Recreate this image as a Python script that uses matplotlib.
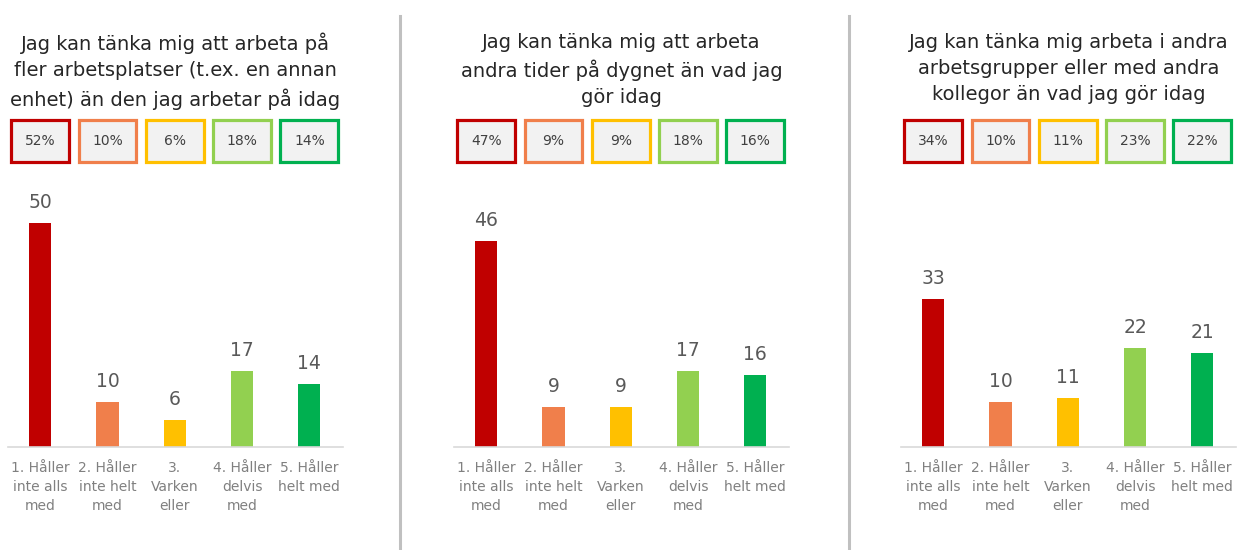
import matplotlib.pyplot as plt
from matplotlib.patches import Rectangle
from matplotlib.lines import Line2D
import matplotlib.transforms as mtransforms

# Data
categories = ['1. Håller\ninte alls\nmed', '2. Håller\ninte helt\nmed', '3.\nVarken\neller',
              '4. Håller\ndelvis\nmed', '5. Håller\nhelt med']
titles = ['Jag kan tänka mig att arbeta på\nfler arbetsplatser (t.ex. en annan\nenhet) än den jag arbetar på idag',
          'Jag kan tänka mig att arbeta\nandra tider på dygnet än vad jag\ngör idag',
          'Jag kan tänka mig arbeta i andra\narbetsgrupper eller med andra\nkollegor än vad jag gör idag']
counts_1 = [50, 10, 6, 17, 14]
counts_2 = [46, 9, 9, 17, 16]
counts_3 = [33, 10, 11, 22, 21]
pct_1 = [52, 10, 6, 18, 14]
pct_2 = [47, 9, 9, 18, 16]
pct_3 = [34, 10, 11, 23, 22]

colors = ['#C00000', '#F07F4B', '#FFC000', '#92D050', '#00B050']

W, H = 1239, 550
fig = plt.figure(figsize=(W / 100, H / 100), dpi=100)

panels = [(titles[0], counts_1, pct_1, 8),
          (titles[1], counts_2, pct_2, 454),
          (titles[2], counts_3, pct_3, 901)]

ax_w = 335
ax_bottom = 447
ax_top = 170
for title, counts, pcts, left in panels:
    ax = fig.add_axes([left / W, (H - ax_bottom) / H, ax_w / W, (ax_bottom - ax_top) / H])
    x = range(len(categories))
    bars = ax.bar(x, counts, width=0.33, color=colors)
    ax.set_xlim(-0.48, 4.5)
    ax.set_ylim(0, (ax_bottom - ax_top) / 4.48)
    for b, v in zip(bars, counts):
        ax.annotate(str(v), (b.get_x() + b.get_width() / 2, v), xytext=(0, 8),
                    textcoords='offset points', ha='center', va='bottom',
                    fontsize=13.5, color='#595959')
    ax.set_xticks(list(x))
    ax.set_xticklabels(categories, fontsize=10, color='#808080', linespacing=1.45)
    ax.tick_params(axis='x', length=0, pad=10)
    ax.set_yticks([])
    for s in ['top', 'left', 'right']:
        ax.spines[s].set_visible(False)
    ax.spines['bottom'].set_color('#d9d9d9')
    ax.spines['bottom'].set_linewidth(1.2)

    # percentage boxes
    trans = mtransforms.blended_transform_factory(ax.transData, fig.transFigure)
    for i, (p, c) in enumerate(zip(pcts, colors)):
        rect = Rectangle((i - 0.43, (H - 162) / H), 0.86, 42 / H, transform=trans,
                         facecolor='#f2f2f2', edgecolor=c, linewidth=2.3, clip_on=False)
        fig.add_artist(rect)
        fig.text(0, (H - 141) / H, f'{p}%', transform=trans, fontsize=10,
                 color='#404040', ha='center', va='center').set_x(i)

    fig.text((left + ax_w / 2) / W, (H - 33) / H, title, ha='center', va='top',
             fontsize=14, color='#262626', linespacing=1.45)

# separators
for sx in [399.5, 848.5]:
    fig.add_artist(Line2D([sx / W, sx / W], [0, (H - 16) / H], color='#c0c0c0', linewidth=2.2))

fig.savefig('out.png', dpi=100, facecolor='white')
